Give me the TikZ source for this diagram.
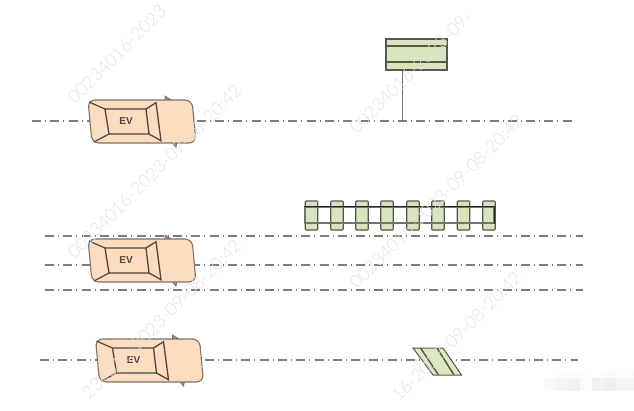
\documentclass[tikz,border=0pt]{standalone}
\usepackage{fontspec}
\setmainfont{Liberation Sans}
\newfontfamily\wmfont{Lato Light}
\definecolor{carfill}{HTML}{FCDDBF}
\definecolor{caredge}{HTML}{7D7268}
\definecolor{carline}{HTML}{4F463E}
\definecolor{signfill}{HTML}{D8E4BC}
\definecolor{signedge}{HTML}{55584E}
\definecolor{roadline}{HTML}{7C7C7C}
\definecolor{markfill}{HTML}{DCE8C0}
\tikzset{
  road/.style={draw=roadline,line width=1.2pt,dash pattern=on 9pt off 4pt on 1pt off 4.3pt},
  signpart/.style={draw=signedge,fill=signfill,line width=1.1pt,inner sep=0pt,rectangle},
  bar/.style={signpart,minimum width=12.5pt,minimum height=29pt,rounded corners=0.8pt},
  stripe/.style={draw=signedge,line width=1.5pt},
  watermark/.style={text=gray!22,font=\wmfont\fontsize{17.8}{20}\selectfont,anchor=base west,rotate=45,inner sep=0pt},
  evcar/.pic={
    \draw[fill=caredge!70!carfill,draw=caredge,line width=.8pt] (165,100.5) -- (165,96) -- (172,100.5) -- cycle;
    \draw[fill=caredge!70!carfill,draw=caredge,line width=.8pt] (172,142.5) -- (177,142.5) -- (176,147) -- cycle;
    \draw[fill=carfill,draw=caredge,line width=1.1pt,rounded corners=7pt]
      (88,100) -- (192,100) -- (196,143) -- (92,143) -- cycle;
    \draw[draw=carline,line width=1.3pt] (105,109) -- (146,109) -- (149,134) -- (109,134) -- cycle;
    \draw[draw=carline,line width=1.3pt] (146,109) -- (156,102.7) -- (161,140.7) -- (149,134);
    \draw[draw=carline,line width=1.2pt] (89,102) -- (105,109) (94,142) -- (109,134);
    \node[text=carline,font=\fontsize{10}{12}\bfseries\selectfont,inner sep=0pt] (-label) at (126,121) {EV};
  }
}
\begin{document}
\begin{tikzpicture}[x=1pt,y=-1pt]
\useasboundingbox (0,0) rectangle (634,410);
% smudge, bottom right
\foreach \xa/\xb/\sh in {544/556/5,556/568/8,568/580/11,580/592/4,592/604/10,604/616/13,616/634/8}
  \fill[gray!\sh] (\xa,378) rectangle (\xb,391);
\fill[gray!3] (552,378) .. controls (565,368) and (585,370) .. (592,378) -- cycle;
\fill[gray!3] (600,378) .. controls (612,366) and (630,366) .. (634,370) -- (634,378) -- cycle;
% road lines
\coordinate (r1a) at (32,121);  \coordinate (r1b) at (572,121);
\coordinate (r2a) at (45,236);  \coordinate (r2b) at (583,236);
\coordinate (r3a) at (45,265);  \coordinate (r3b) at (583,265);
\coordinate (r4a) at (45,290);  \coordinate (r4b) at (583,290);
\coordinate (r5a) at (40,360);  \coordinate (r5b) at (578,360);
\foreach \n in {1,...,5} \draw[road] (r\n a) -- (r\n b);
% cars
\pic (car1) {evcar};
\pic[shift={(0,139)}] (car2) {evcar};
\pic[shift={(7.5,239)}] (car3) {evcar};
% sign on a pole
\coordinate (polefoot) at (402.5,121);
\node[signpart,minimum width=61pt,minimum height=31pt] (sign) at (416.5,54.5) {};
\draw[draw=gray!90!black,line width=1.6pt] (sign.south -| polefoot) -- (polefoot);
\draw[stripe] (sign.west |- 0,46) -- (sign.east |- 0,46);
\draw[stripe] (sign.west |- 0,62) -- (sign.east |- 0,62);
% gantry
\foreach \i/\x in {1/311.5,2/337,3/362,4/387,5/413,6/438,7/463.5,8/489}
  \node[bar] (b\i) at (\x,215.5) {};
\node[draw=gray!90!black,line width=1.1pt,inner sep=0pt,rectangle,minimum width=189pt,minimum height=16pt] (span) at (399.5,215) {};
\draw[black!85,line width=1pt] (span.north west) -- (span.north east) -- (span.south east);
% tilted marking
\coordinate (ma) at (413,348); \coordinate (mb) at (443,348);
\coordinate (mc) at (461.5,375); \coordinate (md) at (433,375);
\draw[fill=markfill,draw=signedge,line width=1pt] (ma) -- (mb) -- (mc) -- (md) -- cycle;
\coordinate (s1a) at (420.5,348); \coordinate (s1b) at (438.5,375);
\coordinate (s2a) at (437,348);   \coordinate (s2b) at (454,375);
\draw[stripe] (s1a) -- (s1b);
\draw[stripe] (s2a) -- (s2b);
% watermark
\node[watermark] (w1) at (75,105) {00234016-2023};
\node[watermark] (w2) at (75,260) {00234016-2023-09-08-20:42};
\node[watermark] (w3) at (89.6,400.4) {234016-2023-09-08-20:42};
\node[watermark] (w4) at (357,135) {00234016-2023-09-};
\node[watermark] (w5) at (357,290) {00234016-2023-09-08-20:42};
\node[watermark] (w6) at (399,403) {16-2023-09-08-20:42};
\end{tikzpicture}
\end{document}
